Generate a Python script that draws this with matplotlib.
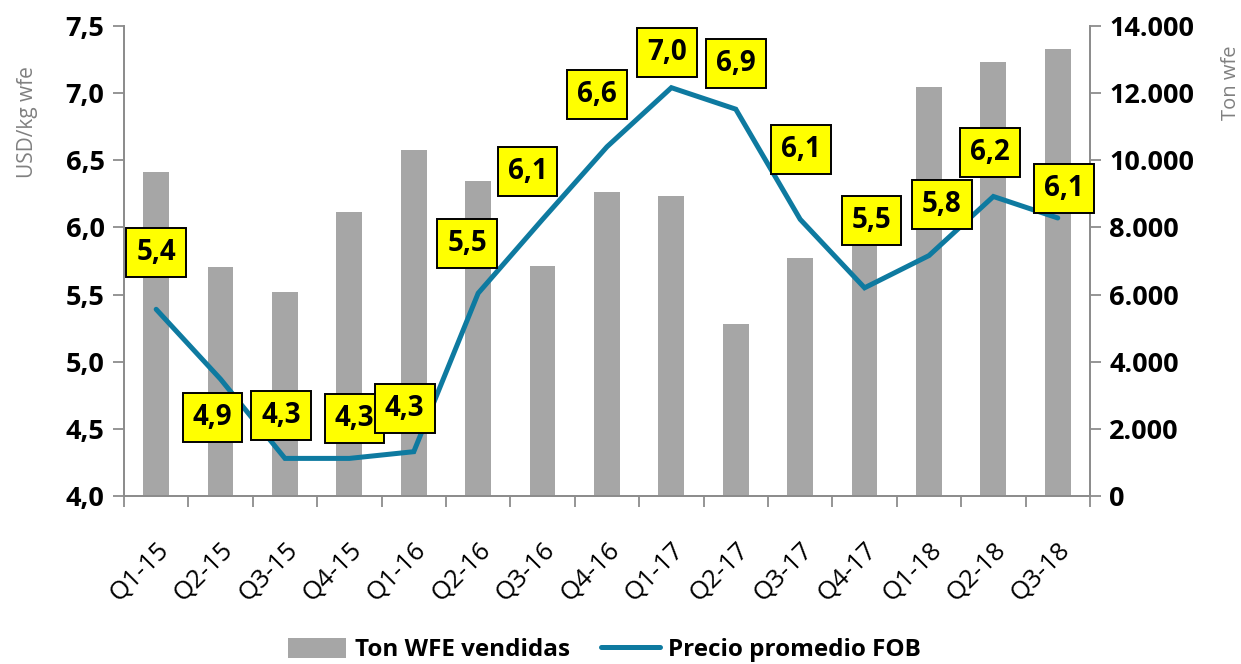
import matplotlib
matplotlib.use('Agg')
import matplotlib.pyplot as plt
import matplotlib.transforms as mtransforms
from matplotlib.ticker import FuncFormatter, FixedLocator

plt.rcParams['font.family'] = ['Open Sans', 'DejaVu Sans']

# Data
quarters = ['Q1-15', 'Q2-15', 'Q3-15', 'Q4-15', 'Q1-16', 'Q2-16', 'Q3-16', 'Q4-16',
            'Q1-17', 'Q2-17', 'Q3-17', 'Q4-17', 'Q1-18', 'Q2-18', 'Q3-18']
ton_wfe = [9640, 6810, 6070, 8470, 10290, 9380, 6850, 9050,
           8940, 5120, 7080, 7800, 12180, 12930, 13320]
precio_fob = [5.39, 4.87, 4.28, 4.28, 4.33, 5.51, 6.06, 6.60,
              7.04, 6.88, 6.06, 5.55, 5.79, 6.23, 6.07]
price_labels = ['5,4', '4,9', '4,3', '4,3', '4,3', '5,5', '6,1', '6,6',
                '7,0', '6,9', '6,1', '5,5', '5,8', '6,2', '6,1']

# label offsets from point (pixels)
label_offsets = [(0, 57), (-8, -38), (-4, 43), (5, 40), (-9, 43), (-11, 50), (-15, 48), (-10, 52),
                 (-4, 35), (0, 46), (1, 70), (7, 67), (13, 51), (-3, 44), (6, 29)]

bar_color = '#A6A6A6'
line_color = '#0E7AA0'
spine_color = '#8C8C8C'

fig = plt.figure(figsize=(12.41, 6.64), dpi=100)
ax2 = fig.add_axes([0.0999, 0.253, 0.7784, 0.708])  # bars (right axis)
ax = ax2.twinx()
ax.yaxis.tick_left()
ax.yaxis.set_label_position('left')
ax2.yaxis.tick_right()
ax2.yaxis.set_label_position('right')

x = range(len(quarters))
bars = ax2.bar(x, ton_wfe, width=0.4, color=bar_color, zorder=2, label='Ton WFE vendidas')
ax2.set_ylim(0, 14000)
ax2.set_yticks(range(0, 14001, 2000))
ax2.yaxis.set_major_formatter(FuncFormatter(lambda v, p: f'{int(v):,}'.replace(',', '.')))

line, = ax.plot(x, precio_fob, color=line_color, lw=3.6, solid_capstyle='round',
                solid_joinstyle='miter', zorder=3, label='Precio promedio FOB')
ax.set_ylim(4.0, 7.5)
ax.set_yticks([4.0 + 0.5 * i for i in range(8)])
ax.yaxis.set_major_formatter(FuncFormatter(lambda v, p: f'{v:.1f}'.replace('.', ',')))
ax.set_xlim(-0.5, len(quarters) - 0.5)

for xi, yi, lab, (dx, dy) in zip(x, precio_fob, price_labels, label_offsets):
    ax.annotate(lab, (xi, yi), xytext=(dx * 0.72, dy * 0.72), textcoords='offset points',
                ha='center', va='center', fontsize=20, fontweight='bold', zorder=5,
                bbox=dict(boxstyle='square,pad=0.36', fc='#FFFF00', ec='black', lw=1.4))

# x axis: labels at centers, ticks at boundaries
ax2.set_xticks(list(x))
ax2.set_xticklabels(quarters, rotation=45, ha='right', rotation_mode='anchor', fontsize=18.5)
shift = mtransforms.ScaledTranslation(2 / 100, 0, fig.dpi_scale_trans)
for t in ax2.get_xticklabels():
    t.set_transform(t.get_transform() + shift)
ax2.xaxis.set_minor_locator(FixedLocator([i - 0.5 for i in range(len(quarters) + 1)]))
ax2.tick_params(axis='x', which='major', length=0, pad=30)
ax2.tick_params(axis='x', which='minor', length=8, color=spine_color, width=1.3)

for a in (ax, ax2):
    a.spines['top'].set_visible(False)
    for s in ['left', 'right', 'bottom']:
        a.spines[s].set_color(spine_color)
        a.spines[s].set_linewidth(1.3)

ax.tick_params(axis='y', length=8, color=spine_color, width=1.3, labelsize=19.5, pad=6)
ax2.tick_params(axis='y', length=8, color=spine_color, width=1.3, labelsize=19.5, pad=6)
for t in ax.get_yticklabels() + ax2.get_yticklabels():
    t.set_fontweight('bold')

ax.set_ylabel('USD/kg wfe', color='#808080', fontsize=15)
ax2.set_ylabel('Ton wfe', color='#808080', fontsize=14.5)
ax.yaxis.set_label_coords(-0.089, 0.795)
ax2.yaxis.set_label_coords(1.136, 0.88)

fig.legend([bars, line], ['Ton WFE vendidas', 'Precio promedio FOB'], loc='lower center',
           bbox_to_anchor=(0.487, -0.03), ncol=2, frameon=False,
           prop={'size': 17.5, 'weight': 'bold'}, handlelength=2.4, handleheight=0.9,
           columnspacing=1.3, handletextpad=0.35)

fig.savefig('out.png', dpi=100)
